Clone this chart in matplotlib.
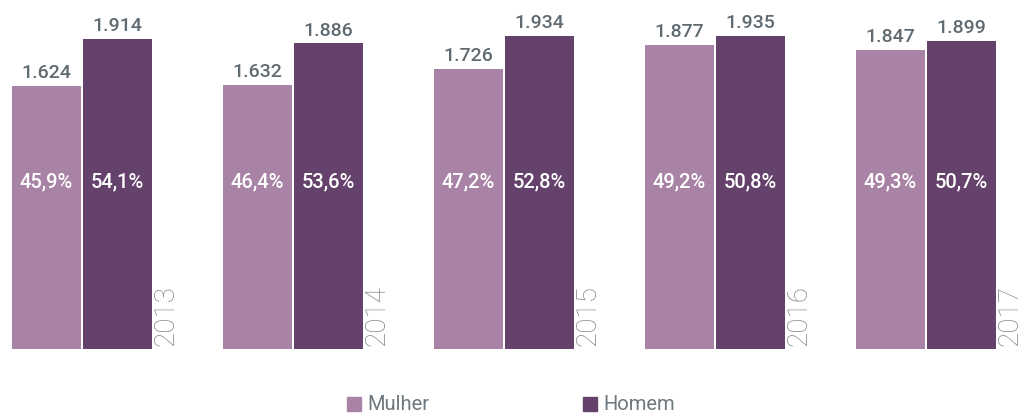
import matplotlib.pyplot as plt
from matplotlib.patches import Rectangle

# dados
anos = ['2013', '2014', '2015', '2016', '2017']
mulher = [1624, 1632, 1726, 1877, 1847]
homem = [1914, 1886, 1934, 1935, 1899]
pct_mulher = ['45,9%', '46,4%', '47,2%', '49,2%', '49,3%']
pct_homem = ['54,1%', '53,6%', '52,8%', '50,8%', '50,7%']
series = ['Mulher', 'Homem']

cor_mulher = '#a983a5'
cor_homem = '#65426b'
cor_texto = '#5f6a71'
cor_ano = '#7b858c'


def main():
    plt.rcParams['font.family'] = ['Roboto', 'DejaVu Sans']

    fig = plt.figure(figsize=(10.23, 4.14), dpi=100)
    ax = fig.add_axes([0, 64 / 414, 1, 350 / 414])
    ax.axis('off')

    larg = 0.327
    gap = 0.0095
    x = list(range(len(anos)))
    x1 = [i - larg / 2 - gap / 2 for i in x]
    x2 = [i + larg / 2 + gap / 2 for i in x]

    ax.bar(x1, mulher, width=larg, color=cor_mulher, linewidth=0)
    ax.bar(x2, homem, width=larg, color=cor_homem, linewidth=0)

    for i in x:
        ax.text(x1[i], mulher[i] + 55, f'{mulher[i] / 1000:.3f}', ha='center',
                va='baseline', fontsize=14, fontweight='medium', color=cor_texto)
        ax.text(x2[i], homem[i] + 55, f'{homem[i] / 1000:.3f}', ha='center',
                va='baseline', fontsize=14, fontweight='medium', color=cor_texto)
        ax.text(x1[i], 1037, pct_mulher[i], ha='center', va='center',
                fontsize=14.5, fontweight='medium', color='white')
        ax.text(x2[i], 1037, pct_homem[i], ha='center', va='center',
                fontsize=14.5, fontweight='medium', color='white')
        ax.text(x2[i] + larg / 2 + 0.003, 25, anos[i], rotation=90, ha='left',
                va='bottom', fontsize=20, fontweight='light', color=cor_ano)

    ax.set_xlim(-82 / 211, (1023 - 82) / 211)
    ax.set_ylim(0, 350 / 0.162)

    # legenda
    W, H = 1023, 414
    for nome, cor, px in zip(series, [cor_mulher, cor_homem], [347, 583]):
        fig.patches.append(Rectangle((px / W, (H - 412) / H), 14 / W, 14 / H,
                                     transform=fig.transFigure, color=cor))
        fig.text((px + 20) / W, (H - 405) / H, nome, ha='left', va='center',
                 fontsize=14.5, color='#6d777e')

    fig.savefig('out.png', dpi=100)


if __name__ == '__main__':
    main()
